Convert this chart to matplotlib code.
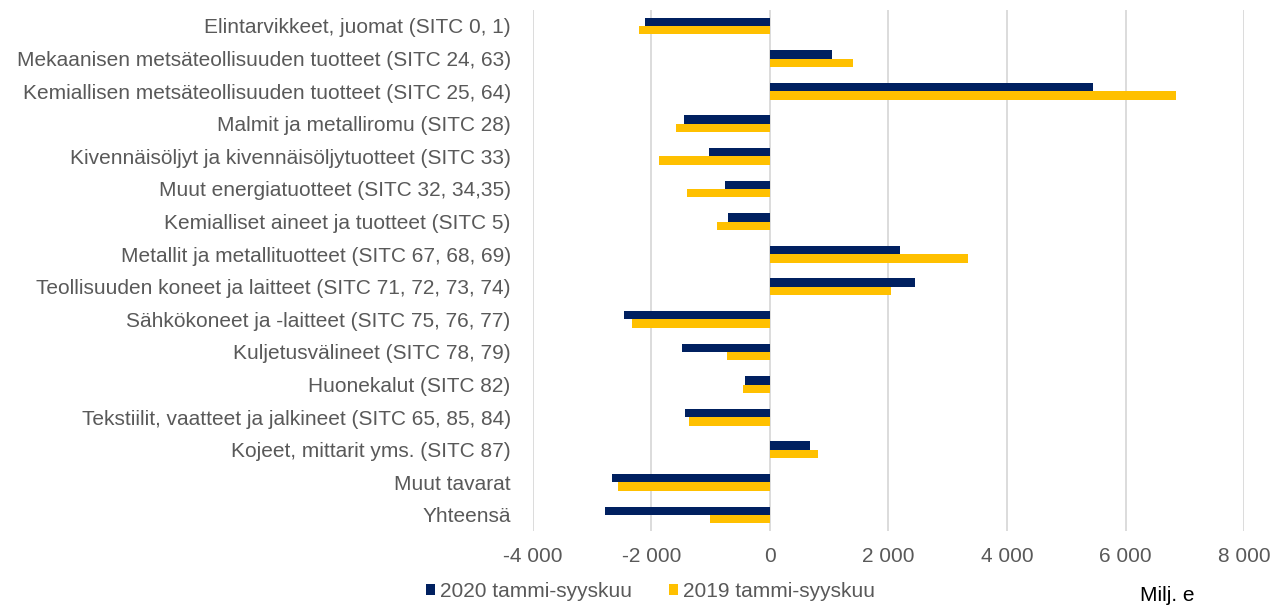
import matplotlib.pyplot as plt
import numpy as np

plt.rcParams["font.family"] = ["Liberation Sans", "DejaVu Sans"]

categories = [
    "Elintarvikkeet, juomat (SITC 0, 1)",
    "Mekaanisen metsäteollisuuden tuotteet (SITC 24, 63)",
    "Kemiallisen metsäteollisuuden tuotteet (SITC 25, 64)",
    "Malmit ja metalliromu (SITC 28)",
    "Kivennäisöljyt ja kivennäisöljytuotteet (SITC 33)",
    "Muut energiatuotteet (SITC 32, 34,35)",
    "Kemialliset aineet ja tuotteet (SITC 5)",
    "Metallit ja metallituotteet (SITC 67, 68, 69)",
    "Teollisuuden koneet ja laitteet (SITC 71, 72, 73, 74)",
    "Sähkökoneet ja -laitteet (SITC 75, 76, 77)",
    "Kuljetusvälineet (SITC 78, 79)",
    "Huonekalut (SITC 82)",
    "Tekstiilit, vaatteet ja jalkineet (SITC 65, 85, 84)",
    "Kojeet, mittarit yms. (SITC 87)",
    "Muut tavarat",
    "Yhteensä",
]

values_2020 = [-2115, 1046, 5446, -1451, -1030, -765, -704, 2194,
               2453, -2464, -1491, -417, -1435, 670, -2662, -2780]
values_2019 = [-2211, 1395, 6857, -1586, -1879, -1401, -895, 3342,
               2048, -2324, -731, -456, -1362, 816, -2560, -1007]

series_labels = ["2020 tammi-syyskuu", "2019 tammi-syyskuu"]
x_ticks = [-4000, -2000, 0, 2000, 4000, 6000, 8000]
x_tick_labels = ["-4 000", "-2 000", "0", "2 000", "4 000", "6 000", "8 000"]

navy = "#002060"
yellow = "#FFC000"
text_gray = "#595959"

fig = plt.figure(figsize=(12.72, 6.06), dpi=100)
ax = fig.add_axes([0.419, 0.1233, 0.559, 0.8607])

y = np.arange(len(categories))
h = 0.26
ax.barh(y - h / 2, values_2020, height=h, color=navy, label=series_labels[0], zorder=3)
ax.barh(y + h / 2, values_2019, height=h, color=yellow, label=series_labels[1], zorder=3)

ax.set_ylim(len(categories) - 0.5, -0.5)
ax.set_xlim(-4000, 8000)
ax.set_xticks(x_ticks, labels=x_tick_labels)
ax.set_yticks(y, labels=categories)
ax.tick_params(axis="both", length=0, labelsize=15, labelcolor=text_gray)
ax.tick_params(axis="y", pad=16)
ax.tick_params(axis="x", pad=11)
ax.grid(axis="x", color="#D9D9D9", linewidth=1.3, zorder=0)
ax.set_axisbelow(True)
for spine in ax.spines.values():
    spine.set_visible(False)

fig.legend(loc="center left", bbox_to_anchor=(0.3284, 0.024), ncol=2, frameon=False,
           fontsize=15, labelcolor=text_gray, handlelength=0.45, handleheight=0.45,
           handletextpad=0.2, columnspacing=1.8, borderaxespad=0.0)
fig.text(1140 / 1272, 1 - 601 / 606, "Milj. e", fontsize=15, color="black",
         ha="left", va="baseline")

fig.savefig("out.png", dpi=100)
